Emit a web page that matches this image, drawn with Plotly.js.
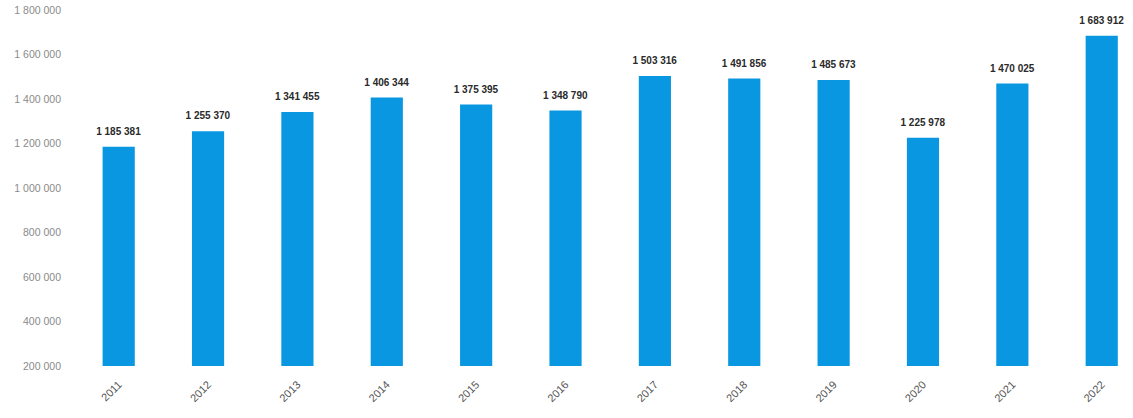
<!DOCTYPE html>
<html>
<head>
<meta charset="utf-8">
<script src="https://cdn.plot.ly/plotly-3.0.1.min.js"></script>
<style>
  html, body { margin: 0; padding: 0; background: #ffffff; }
  #chart { width: 1133px; height: 418px; }
</style>
</head>
<body>
<div id="chart"></div>
<script>
const years = ["2011", "2012", "2013", "2014", "2015", "2016", "2017", "2018", "2019", "2020", "2021", "2022"];
const values = [1185381, 1255370, 1341455, 1406344, 1375395, 1348790, 1503316, 1491856, 1485673, 1225978, 1470025, 1683912];
const yTicks = [200000, 400000, 600000, 800000, 1000000, 1200000, 1400000, 1600000, 1800000];

function fmt(v) {
  return String(v).replace(/\B(?=(\d{3})+(?!\d))/g, " ");
}

const trace = {
  type: "bar",
  x: years,
  y: values,
  text: values.map(v => "<span style='font-size:10px'><b>" + fmt(v) + "</b></span><br> "),
  texttemplate: "%{text}",
  textposition: "outside",
  constraintext: "none",
  cliponaxis: false,
  outsidetextfont: { family: "Liberation Sans, Arial, sans-serif", size: 6, color: "#2a2a2a" },
  marker: { color: "#0897e0" },
  hoverinfo: "x+y"
};

const layout = {
  width: 1133,
  height: 418,
  margin: { l: 74, r: 0, t: 10, b: 52 },
  paper_bgcolor: "#ffffff",
  plot_bgcolor: "#ffffff",
  bargap: 0.64,
  showlegend: false,
  xaxis: {
    type: "category",
    range: [-0.5, 11.35],
    tickangle: -45,
    showgrid: false,
    showline: false,
    zeroline: false,
    ticks: "",
    ticklabelstandoff: 9,
    tickfont: { family: "Liberation Sans, Arial, sans-serif", size: 11, color: "#555555" }
  },
  yaxis: {
    range: [200000, 1800000],
    tickvals: yTicks,
    ticktext: yTicks.map(fmt),
    showgrid: false,
    showline: false,
    zeroline: false,
    ticks: "",
    ticklabelstandoff: 12,
    tickfont: { family: "Liberation Sans, Arial, sans-serif", size: 10.5, color: "#8a8a8a" }
  }
};

Plotly.newPlot("chart", [trace], layout, { displayModeBar: false, staticPlot: true });
</script>
</body>
</html>
